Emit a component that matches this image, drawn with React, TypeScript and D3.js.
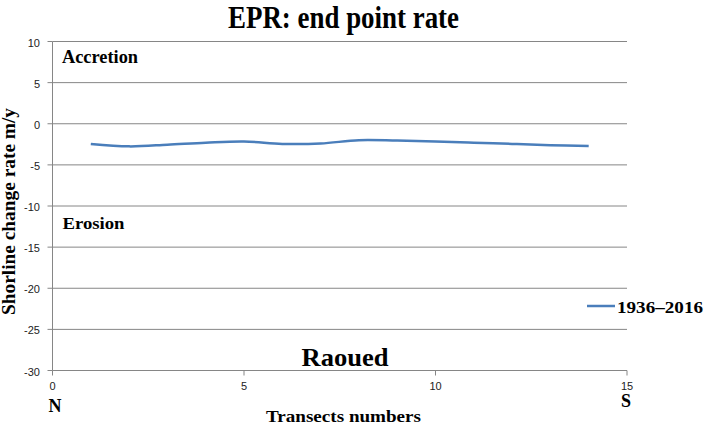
import React from "react";
import * as d3 from "d3";

const transects = [1, 2, 3, 4, 5, 6, 7, 8, 9, 10, 11, 12, 13, 14];
const epr = [-2.45, -2.75, -2.55, -2.3, -2.15, -2.45, -2.4, -2.0, -2.05, -2.15, -2.3, -2.45, -2.6, -2.7];
const xTicks = [0, 5, 10, 15];
const yTicks = [10, 5, 0, -5, -10, -15, -20, -25, -30];
const seriesName = "1936–2016";

const W = 706, H = 427;
const serif = "'Liberation Serif', 'Times New Roman', serif";
const sans = "'Liberation Sans', Arial, sans-serif";

export default function App() {
  const x = d3.scaleLinear().domain([0, 15]).range([52.5, 627]);
  const y = d3.scaleLinear().domain([-30, 10]).range([370.5, 41.5]);
  const line = d3
    .line<number>()
    .x((_, i) => x(transects[i]))
    .y((d) => y(d))
    .curve(d3.curveCatmullRom.alpha(0.5));
  return (
    <svg width={W} height={H} style={{ position: "absolute", left: 0, top: 0 }}>
      <rect width={W} height={H} fill="#fff" />
      <text x={228} y={28} fontFamily={serif} fontWeight="bold" fontSize={31}
        textLength={231} lengthAdjust="spacingAndGlyphs">
        EPR: end point rate
      </text>
      {yTicks.map((t) => (
        <g key={t}>
          <line x1={x(0)} x2={x(15)} y1={y(t)} y2={y(t)} stroke="#868686" strokeWidth={1} />
          <line x1={x(0) - 5} x2={x(0)} y1={y(t)} y2={y(t)} stroke="#868686" />
          <text x={40} y={y(t) + 5} textAnchor="end" fontFamily={sans} fontSize={11} fill="#222">
            {t}
          </text>
        </g>
      ))}
      <line x1={x(0)} x2={x(0)} y1={y(10)} y2={y(-30)} stroke="#868686" />
      {xTicks.map((t) => (
        <g key={t}>
          <line x1={x(t)} x2={x(t)} y1={y(-30)} y2={y(-30) + 5} stroke="#868686" />
          <text x={x(t)} y={390} textAnchor="middle" fontFamily={sans} fontSize={11} fill="#222">
            {t}
          </text>
        </g>
      ))}
      <path d={line(epr) || ""} fill="none" stroke="#4a7ebb" strokeWidth={2.5} />
      <text x={62} y={63} fontFamily={serif} fontWeight="bold" fontSize={18}
        textLength={76} lengthAdjust="spacingAndGlyphs">Accretion</text>
      <text x={62.5} y={229} fontFamily={serif} fontWeight="bold" fontSize={17}
        textLength={62} lengthAdjust="spacingAndGlyphs">Erosion</text>
      <text x={301.5} y={365.5} fontFamily={serif} fontWeight="bold" fontSize={26}
        textLength={87} lengthAdjust="spacingAndGlyphs">Raoued</text>
      <text
        transform={`translate(15,${315}) rotate(-90)`}
        fontFamily={serif}
        fontWeight="bold"
        fontSize={18}
        textLength={207}
        lengthAdjust="spacingAndGlyphs"
      >
        Shorline change rate m/y
      </text>
      <text x={266} y={422} fontFamily={serif} fontWeight="bold" fontSize={17}
        textLength={155} lengthAdjust="spacingAndGlyphs">
        Transects numbers
      </text>
      <text x={55} y={412} textAnchor="middle" fontFamily={serif} fontWeight="bold" fontSize={18}>N</text>
      <text x={626} y={407} textAnchor="middle" fontFamily={serif} fontWeight="bold" fontSize={18}>S</text>
      <line x1={587} x2={615} y1={306} y2={306} stroke="#4a7ebb" strokeWidth={2.5} />
      <text x={617} y={313} fontFamily={serif} fontWeight="bold" fontSize={16}
        textLength={86} lengthAdjust="spacingAndGlyphs">{seriesName}</text>
    </svg>
  );
}
